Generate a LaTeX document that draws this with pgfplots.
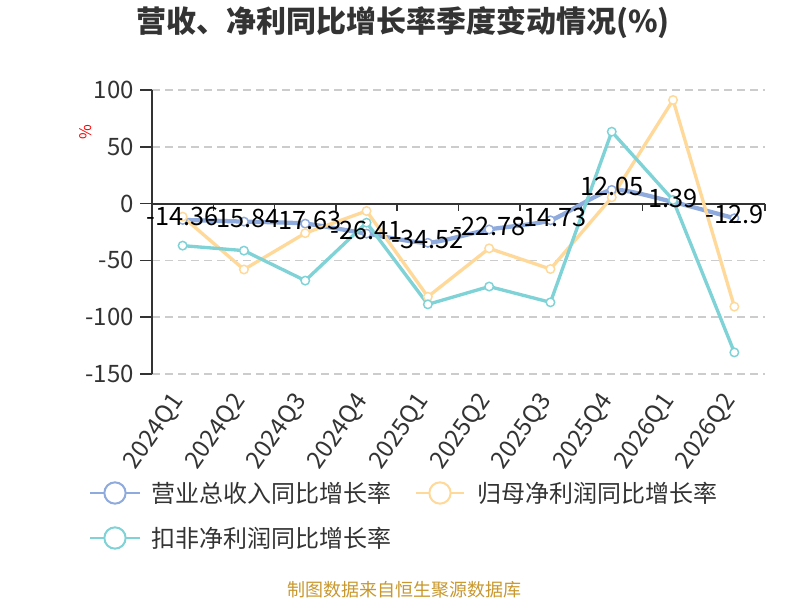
\documentclass[border=0pt]{standalone}
\usepackage{fontspec}
\setmainfont{Noto Sans CJK SC}
\usepackage{pgfplots}
\pgfplotsset{compat=1.18}
\definecolor{cblue}{HTML}{8FAADC}
\definecolor{cyellow}{HTML}{FFD99A}
\definecolor{cteal}{HTML}{7FD2D6}
\definecolor{ctext}{HTML}{333333}
\definecolor{cgrid}{HTML}{CCCCCC}
\definecolor{cfoot}{HTML}{C8982E}
\begin{document}
\begin{tikzpicture}
\useasboundingbox (0pt,0pt) rectangle (600pt,450pt);
\begin{axis}[
  at={(114pt,169.5pt)}, anchor=south west,
  width=459.75pt, height=213pt, scale only axis,
  xmin=-0.5, xmax=9.5, ymin=-150, ymax=100,
  axis y line*=left, axis x line*=bottom,
  x axis line style={draw=none},
  y axis line style={color=ctext, line width=1.2pt},
  xtick={0,1,2,3,4,5,6,7,8,9},
  xticklabels={2024Q1,2024Q2,2024Q3,2024Q4,2025Q1,2025Q2,2025Q3,2025Q4,2026Q1,2026Q2},
  x tick style={draw=none},
  ytick={-150,-100,-50,0,50,100},
  yticklabels={-150,-100,-50,0,50,100},
  tick align=outside, major tick length=9pt,
  y tick style={color=ctext, line width=1.2pt},
  ymajorgrids,
  y grid style={cgrid, line width=1.1pt, dash pattern=on 6pt off 3.75pt},
  /pgf/number format/assume math mode=true,
  ticklabel style={font=\fontsize{18}{18}\selectfont, text=ctext},
  yticklabel style={inner sep=0pt, xshift=-4.5pt},
  xticklabel style={rotate=55, anchor=east, inner sep=0pt, xshift=-8.2pt, yshift=-2.4pt},
  clip=false,
]
\draw[ctext, line width=1.5pt] (axis cs:-0.5,0) -- (axis cs:9.5,0);
\pgfplotsinvokeforeach{-0.5,0.5,1.5,2.5,3.5,4.5,5.5,6.5,7.5,8.5,9.5}{
  \draw[ctext, line width=1.2pt] (axis cs:#1,0) -- ++(0pt,-5.5pt);
}
\addplot[cblue, line width=3.2pt, smooth, tension=0.35, mark=*, mark size=3.2pt,
  mark options={solid, fill=white, draw=cblue, line width=1.1pt}]
  coordinates {(0,-14.36) (1,-15.84) (2,-17.63) (3,-26.41) (4,-34.52) (5,-22.78) (6,-14.73) (7,12.05) (8,1.39) (9,-12.9)};
\addplot[cyellow, line width=2.5pt, mark=*, mark size=3.2pt,
  mark options={solid, fill=white, draw=cyellow, line width=1.1pt}]
  coordinates {(0,-11.5) (1,-58) (2,-26) (3,-6.5) (4,-82) (5,-39.4) (6,-57.6) (7,5.5) (8,91.2) (9,-90.7)};
\addplot[cteal, line width=2.5pt, mark=*, mark size=3.2pt,
  mark options={solid, fill=white, draw=cteal, line width=1.1pt}]
  coordinates {(0,-37) (1,-41.4) (2,-67.8) (3,-16.8) (4,-88.7) (5,-73) (6,-86.9) (7,63.3) (8,3.2) (9,-131)};
\addplot[draw=none, mark=none, point meta=explicit symbolic,
  nodes near coords, nodes near coords align={anchor=center},
  every node near coord/.append style={anchor=center, yshift=2.5pt, inner sep=0pt,
    font=\fontsize{19}{19}\selectfont, text=black}]
  coordinates {(0,-14.36) [-14.36] (1,-15.84) [-15.84] (2,-17.63) [-17.63] (3,-26.41) [-26.41] (4,-34.52) [-34.52] (5,-22.78) [-22.78] (6,-14.73) [-14.73] (7,12.05) [12.05] (8,1.39) [1.39] (9,-12.9) [-12.9]};
\end{axis}
% title
\node[font=\fontsize{22.5}{22.5}\selectfont\bfseries, text=ctext] at (302.25pt,432.75pt) {营收、净利同比增长率季度变动情况(\%)};
% y label
\node[font=\fontsize{12}{12}\selectfont, text=red, rotate=90] at (64.5pt,351pt) {\%};
% legend
\draw[cblue, line width=1.5pt] (67.5pt,80.25pt) -- (105pt,80.25pt);
\draw[cblue, line width=1.5pt, fill=white] (86.25pt,80.25pt) circle (8pt);
\node[anchor=west, inner sep=0pt, font=\fontsize{18}{18}\selectfont, text=ctext] at (113.25pt,80.25pt) {营业总收入同比增长率};
\draw[cyellow, line width=1.5pt] (312pt,80.25pt) -- (348pt,80.25pt);
\draw[cyellow, line width=1.5pt, fill=white] (330pt,80.25pt) circle (8pt);
\node[anchor=west, inner sep=0pt, font=\fontsize{18}{18}\selectfont, text=ctext] at (357.75pt,80.25pt) {归母净利润同比增长率};
\draw[cteal, line width=1.5pt] (67.5pt,46.5pt) -- (105pt,46.5pt);
\draw[cteal, line width=1.5pt, fill=white] (86.25pt,46.5pt) circle (8pt);
\node[anchor=west, inner sep=0pt, font=\fontsize{18}{18}\selectfont, text=ctext] at (113.25pt,46.5pt) {扣非净利润同比增长率};
% footer
\node[font=\fontsize{13.5}{13.5}\selectfont, text=cfoot] at (303pt,7.5pt) {制图数据来自恒生聚源数据库};
\end{tikzpicture}
\end{document}
